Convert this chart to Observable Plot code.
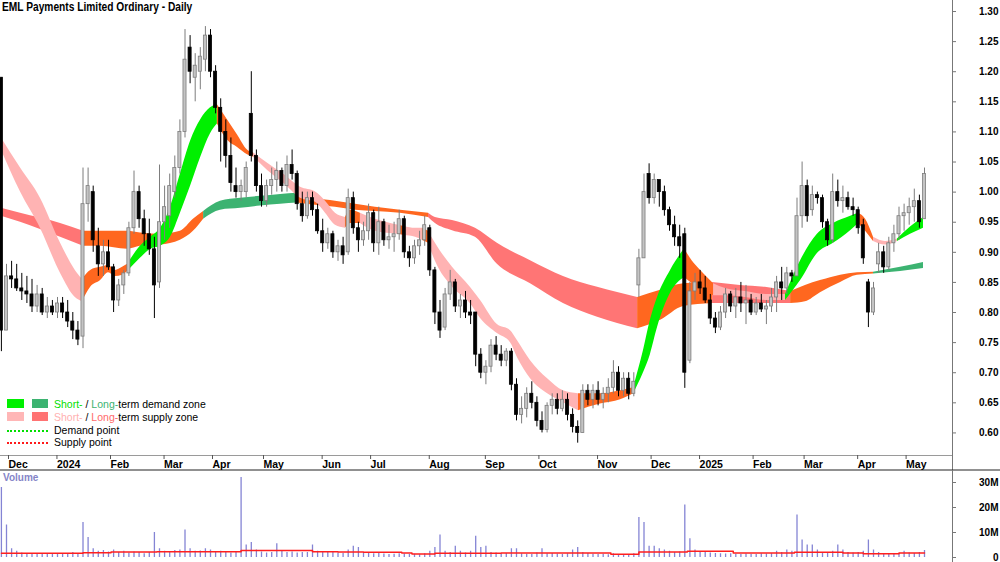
<!DOCTYPE html>
<html><head><meta charset="utf-8">
<script src="https://cdn.jsdelivr.net/npm/d3@7"></script>
<script src="https://cdn.jsdelivr.net/npm/@observablehq/plot@0.6"></script>
<style>
html,body{margin:0;padding:0;background:#fff;}
#root{position:relative;width:1000px;height:562px;overflow:hidden;font-family:"Liberation Sans",Arial,sans-serif;color:#000;}
#root svg{position:absolute;left:0;}
.abs{position:absolute;white-space:nowrap;}
.title{left:2px;top:0px;font-size:12px;font-weight:bold;transform:scaleX(0.85);transform-origin:0 0;line-height:15px;}
.sw{position:absolute;height:9px;}
.lt{position:absolute;left:54px;font-size:10.5px;line-height:12px;white-space:nowrap;}
.dot{position:absolute;left:7px;width:41px;height:0;border-top-width:2px;border-top-style:dotted;}
.vol{left:3px;top:472px;font-size:10px;font-weight:bold;color:#8585c8;line-height:12px;}
</style></head><body><div id="root">
<div class="abs title">EML Payments Limited Ordinary - Daily</div>
<div class="sw" style="left:7px;top:399px;width:17px;background:#00f000"></div>
<div class="sw" style="left:32px;top:399px;width:16px;background:#3cb371"></div>
<div class="lt" style="top:398px"><span style="color:#00e000">Short-</span> / <span style="color:#3cb371">Long-</span>term demand zone</div>
<div class="sw" style="left:7px;top:412px;width:17px;background:#ffb6b6"></div>
<div class="sw" style="left:32px;top:412px;width:16px;background:#ff7373"></div>
<div class="lt" style="top:411px"><span style="color:#ffb0b0">Short-</span> / <span style="color:#ff6a6a">Long-</span>term supply zone</div>
<div class="dot" style="top:430px;border-top-color:#00e000"></div>
<div class="lt" style="top:424px">Demand point</div>
<div class="dot" style="top:442px;border-top-color:#ff1a1a"></div>
<div class="lt" style="top:436px">Supply point</div>
<div class="abs vol">Volume</div>
</div>
<script>
// ---- Candles: one every 2 trading days, trading-day index starts at -2 (late Nov 2023) ----
const firstIdx = -2, step = 2;
const opens = [1.19,0.77,0.86,0.855,0.84,0.835,0.83,0.81,0.83,0.80,
0.81,0.80,0.815,0.80,0.785,0.77,0.76,0.98,1.0,0.91,
0.88,0.90,0.875,0.82,0.845,0.865,0.94,1.0,0.955,0.93,
0.905,0.85,0.95,0.96,1.0,1.04,1.10,1.24,1.19,1.20,
1.22,1.26,1.20,1.14,1.10,1.06,1.01,1.0,1.0,1.13,
1.06,1.01,0.985,1.01,1.02,1.035,1.01,1.045,1.03,0.98,
0.96,0.99,0.97,0.935,0.915,0.93,0.90,0.91,0.90,0.99,
0.94,0.92,0.935,0.965,0.915,0.95,0.92,0.925,0.93,0.955,
0.90,0.89,0.91,0.92,0.94,0.87,0.80,0.775,0.83,0.85,
0.81,0.82,0.80,0.80,0.73,0.70,0.71,0.745,0.73,0.72,
0.735,0.68,0.63,0.64,0.665,0.65,0.62,0.605,0.645,0.655,
0.64,0.655,0.63,0.61,0.60,0.67,0.655,0.67,0.655,0.665,
0.675,0.70,0.67,0.69,0.665,0.845,0.89,1.03,0.99,1.02,
1.0,0.97,0.945,0.925,0.93,0.72,0.835,0.85,0.84,0.82,
0.79,0.775,0.80,0.83,0.81,0.825,0.815,0.82,0.80,0.815,
0.805,0.81,0.825,0.85,0.84,0.865,0.86,0.96,1.01,0.97,
0.995,0.99,0.95,0.92,1.0,0.985,0.99,0.975,0.97,0.945,
0.85,0.80,0.88,0.90,0.875,0.915,0.93,0.96,0.965,0.975,
0.985,0.955];
const highs = [1.19,0.88,0.885,0.88,0.865,0.86,0.855,0.845,0.84,0.825,
0.82,0.825,0.825,0.82,0.80,0.785,1.04,1.04,1.01,0.94,
0.92,0.92,0.88,0.855,0.87,0.95,1.035,1.01,0.97,0.955,
0.925,1.045,1.01,1.03,1.06,1.12,1.27,1.26,1.23,1.24,
1.275,1.27,1.21,1.155,1.12,1.09,1.04,1.02,1.05,1.20,
1.07,1.03,1.02,1.04,1.05,1.04,1.06,1.07,1.035,1.0,
1.0,1.0,0.98,0.955,0.94,0.935,0.92,0.925,1.005,1.0,
0.95,0.95,0.98,0.97,0.975,0.955,0.945,0.95,0.97,0.96,
0.91,0.92,0.935,0.96,0.945,0.875,0.82,0.84,0.87,0.855,
0.83,0.835,0.82,0.80,0.74,0.72,0.755,0.76,0.745,0.74,
0.74,0.69,0.66,0.675,0.685,0.66,0.635,0.65,0.665,0.665,
0.67,0.665,0.64,0.62,0.68,0.68,0.68,0.685,0.675,0.69,
0.72,0.71,0.70,0.70,0.70,0.905,1.03,1.047,1.03,1.015,
1.01,0.975,0.96,0.945,0.94,0.85,0.865,0.87,0.86,0.83,
0.80,0.81,0.84,0.835,0.84,0.85,0.845,0.83,0.825,0.83,
0.82,0.84,0.86,0.875,0.875,0.87,0.99,1.05,1.02,1.01,
1.0,0.995,0.955,1.03,1.02,1.01,1.0,0.99,0.975,0.955,
0.855,0.85,0.915,0.91,0.925,0.945,0.975,0.98,0.99,1.005,
0.995,1.04];
const lows = [0.735,0.77,0.84,0.835,0.82,0.815,0.80,0.80,0.795,0.79,
0.795,0.79,0.79,0.775,0.755,0.745,0.74,0.95,0.90,0.86,
0.86,0.87,0.80,0.81,0.83,0.86,0.93,0.94,0.91,0.895,
0.79,0.84,0.92,0.94,0.99,1.03,1.09,1.18,1.15,1.17,
1.20,1.19,1.13,1.05,1.04,1.0,0.99,0.985,0.99,1.05,
1.0,0.975,0.975,0.995,1.0,1.0,1.0,1.02,0.97,0.95,
0.955,0.96,0.93,0.90,0.905,0.89,0.885,0.88,0.895,0.93,
0.90,0.91,0.92,0.90,0.895,0.91,0.905,0.90,0.92,0.89,
0.875,0.88,0.895,0.91,0.86,0.78,0.757,0.77,0.82,0.80,
0.79,0.79,0.78,0.71,0.69,0.68,0.70,0.72,0.71,0.71,
0.67,0.62,0.615,0.625,0.64,0.61,0.60,0.60,0.63,0.63,
0.635,0.62,0.60,0.583,0.60,0.645,0.64,0.645,0.64,0.65,
0.665,0.66,0.66,0.655,0.66,0.825,0.89,0.98,0.98,0.975,
0.96,0.935,0.91,0.89,0.674,0.715,0.82,0.83,0.815,0.78,
0.765,0.77,0.79,0.80,0.79,0.80,0.78,0.795,0.795,0.80,
0.78,0.80,0.80,0.82,0.83,0.85,0.86,0.94,0.95,0.96,
0.98,0.94,0.91,0.915,0.975,0.965,0.97,0.96,0.93,0.88,
0.775,0.795,0.865,0.865,0.87,0.90,0.92,0.935,0.945,0.95,
0.94,0.955];
const closes = [0.77,0.86,0.855,0.84,0.835,0.83,0.81,0.83,0.80,0.81,
0.80,0.815,0.80,0.785,0.77,0.755,0.98,1.01,0.92,0.88,
0.90,0.875,0.82,0.845,0.865,0.94,1.0,0.955,0.93,0.905,
0.845,0.95,0.975,1.01,1.04,1.10,1.22,1.20,1.21,1.225,
1.26,1.20,1.14,1.10,1.06,1.015,1.0,1.01,1.04,1.06,
1.01,0.985,1.01,1.02,1.035,1.01,1.045,1.03,0.98,0.96,
0.99,0.97,0.935,0.915,0.93,0.90,0.91,0.895,0.99,0.94,
0.92,0.935,0.965,0.915,0.95,0.92,0.925,0.93,0.955,0.90,
0.89,0.91,0.92,0.945,0.87,0.80,0.77,0.83,0.85,0.81,
0.82,0.80,0.795,0.73,0.70,0.71,0.745,0.73,0.72,0.735,
0.68,0.63,0.64,0.665,0.65,0.62,0.605,0.645,0.655,0.64,
0.655,0.63,0.61,0.60,0.67,0.655,0.67,0.655,0.665,0.675,
0.70,0.67,0.69,0.665,0.685,0.89,1.0,0.99,1.02,1.0,
0.97,0.945,0.925,0.91,0.70,0.835,0.85,0.84,0.82,0.79,
0.775,0.80,0.83,0.81,0.825,0.815,0.82,0.80,0.815,0.805,
0.81,0.825,0.85,0.84,0.865,0.86,0.96,1.01,0.96,0.995,
0.99,0.95,0.92,1.0,0.985,0.99,0.975,0.97,0.94,0.89,
0.80,0.84,0.90,0.875,0.915,0.93,0.96,0.965,0.975,0.985,
0.95,1.03];
// volume in millions
const volumes = [28,13,3.5,2.5,1.8,1.5,1.6,1.3,1.5,1.2,
1.4,1.3,1.5,1.2,2.0,1.6,14,8,3.5,2.5,
2.8,2.2,3.0,2.0,2.5,1.8,2.2,2.0,1.5,2.0,
10,3.5,2.5,2.2,2.8,3.0,11,3.5,2.5,2.6,
3.5,3.0,2.2,2.5,2.0,1.8,2.0,32,5,6,
3,2.2,1.8,2.0,5.5,2.5,2.0,2.2,1.8,2.0,
2.0,5,2.5,2.0,2.2,2.0,1.8,1.6,3.0,4.5,
4,2.0,1.8,1.5,1.6,1.4,1.2,1.3,1.5,1.4,
1.2,1.3,1.1,1.5,2.5,4,9,2.5,2.0,4.5,
2.5,1.8,2.5,8.5,4,4.5,2.0,1.8,1.5,1.6,
3.5,3.5,1.5,1.3,1.2,1.8,3.5,1.5,1.6,1.4,
1.2,1.5,3,4,2.0,1.6,1.3,1.2,1.3,1.1,
1.5,1.2,1.0,1.2,1.5,16,14,4.5,4.5,3.5,
3,2.5,2.0,2.2,21,7.5,3,2.2,2.0,1.8,
1.6,1.5,1.4,1.5,1.3,1.2,1.4,1.3,1.2,1.5,
1.4,1.6,2.5,2.0,3,2.5,17,7,5,5,
3,2.0,1.8,2.5,5,3,2.0,1.8,2.0,2.5,
7,3,2.0,1.6,1.5,1.4,1.6,2.5,1.8,1.6,
2.0,2.8];
// average volume line (trading-day index, millions)
const volAvgIdx = [-2,30,41,59,92,120,130,140,155,159,168,194,237,248,267,285,309,328,336,350,360];
const volAvgVal = [1.7,1.9,2.2,2.3,2.8,2.3,2.2,2.1,1.8,1.4,1.7,1.8,1.3,2.2,2.5,1.8,2.1,1.8,1.5,1.8,1.8];

// ---- Short-term zone (state: S supply, N neutral, D demand for the segment starting there) ----
const stIdx = [-2,5.5,13.3,21.2,27,29.8,33,36.9,40,42.7,45.5,47.5,52.5,56.5,60.4,64.3,68.2,72.2,76.1,80,82.7,86.7,90.6,94.5,96.9,102.4,108.6,115.3,121.2,125.1,129,132.9,134.9,138.8,144.7,153.7,156,160.4,163.1,165.5,168.2,174.9,181.9,185.9,192.5,197.6,200.4,205.5,212.2,218.4,224.3,232.9,240.8,245.9,249.8,252.5,255.3,260.4,265.9,269,272.2,277.3,282,289.8,297.6,305.5,311.4,318,324.3,331,334.1,336.9,340,344.7,349.4,354.5,359.6];
const stTop = [1.09,1.04,0.99,0.915,0.87,0.855,0.87,0.875,0.878,0.87,0.875,0.88,0.91,0.925,0.94,0.975,1.03,1.085,1.12,1.14,1.145,1.12,1.095,1.07,1.065,1.048,1.03,1.008,1.0,0.985,0.965,0.958,0.97,0.965,0.955,0.945,0.943,0.94,0.94,0.935,0.915,0.875,0.842,0.82,0.78,0.77,0.753,0.72,0.69,0.67,0.665,0.665,0.67,0.675,0.737,0.787,0.825,0.87,0.906,0.885,0.87,0.848,0.84,0.835,0.83,0.83,0.886,0.93,0.948,0.96,0.965,0.955,0.925,0.918,0.922,0.942,0.958];
const stBot = [1.07,1.0,0.94,0.865,0.825,0.818,0.842,0.853,0.866,0.86,0.862,0.868,0.89,0.905,0.91,0.925,0.965,1.01,1.057,1.097,1.113,1.086,1.074,1.062,1.058,1.036,1.015,0.99,0.983,0.965,0.945,0.94,0.948,0.948,0.935,0.93,0.928,0.925,0.92,0.915,0.885,0.842,0.815,0.79,0.765,0.75,0.725,0.69,0.665,0.65,0.637,0.648,0.655,0.665,0.70,0.73,0.775,0.832,0.858,0.848,0.84,0.828,0.828,0.825,0.82,0.82,0.853,0.898,0.915,0.936,0.948,0.935,0.918,0.912,0.918,0.93,0.94];
const stState = ["S","S","S","S","S","N","N","N","N","N","N","D","D","D","D","D","D","D","D","D","N","N","N","N","S","S","S","S","S","S","S","N","N","S","S","N","S","S","N","S","S","S","S","S","S","S","S","S","S","S","N","N","N","D","D","D","D","D","N","N","N","S","S","S","S","D","D","D","D","D","N","N","S","S","D","D","D"];

// ---- Long-term zone ----
const ltIdx = [-2,5.5,13.3,21.2,30.2,36.9,47.5,52.5,60.4,68.2,73.3,77.3,83.9,91.8,99.6,107.5,114.1,121.2,129,136.9,144.7,154.5,165.5,168.2,174.9,183.9,192.5,205.5,218.4,231.8,247.5,256.5,265.5,276.9,287.8,297.6,307.5,313.3,319.2,327.1,333.7,340,350.6,359.6];
const ltTop = [0.973,0.965,0.957,0.948,0.935,0.935,0.935,0.932,0.93,0.935,0.955,0.968,0.985,0.99,0.993,0.996,0.998,0.99,0.985,0.98,0.975,0.97,0.965,0.958,0.953,0.94,0.915,0.886,0.86,0.842,0.825,0.837,0.848,0.85,0.845,0.842,0.835,0.845,0.853,0.862,0.866,0.867,0.875,0.883];
const ltBot = [0.96,0.95,0.938,0.925,0.91,0.91,0.905,0.91,0.912,0.92,0.935,0.955,0.97,0.973,0.977,0.98,0.982,0.978,0.975,0.97,0.968,0.965,0.958,0.948,0.936,0.925,0.88,0.848,0.815,0.792,0.773,0.787,0.81,0.815,0.815,0.815,0.815,0.818,0.833,0.85,0.862,0.864,0.868,0.873];
const ltState = ["S","S","S","S","N","N","N","N","N","N","N","D","D","D","D","D","N","N","N","N","N","N","S","S","S","S","S","S","S","S","N","N","N","S","S","S","N","N","N","N","N","D","D","D"];

const stColors = {S:"#ffb3b3", N:"#ff671f", D:"#00f000"};
const ltColors = {S:"#ff7575", N:"#ff671f", D:"#3cb371"};

// ---- axes ----
const priceTicks = [0.60,0.65,0.70,0.75,0.80,0.85,0.90,0.95,1.00,1.05,1.10,1.15,1.20,1.25,1.30];
const monthTickIdx = [0,19,40,61,80,100,123,142,165,187,208,231,252,271,292,312,333,352];
const monthLabels = ["Dec","2024","Feb","Mar","Apr","May","Jun","Jul","Aug","Sep","Oct","Nov","Dec","2025","Feb","Mar","Apr","May"];
const volTicks = [0,10,20,30];
const volTickLabels = ["0","10M","20M","30M"];

// ---- build ----
const candles = opens.map((o,k)=>({i:firstIdx+step*k, o, h:highs[k], l:lows[k], c:closes[k], v:volumes[k]}));
const volAvg = volAvgIdx.map((x,k)=>({x, y:volAvgVal[k]}));
function zoneRows(idx, top, bot, state, colors){
  const rows=[]; let g=-1;
  for(let j=0;j<idx.length-1;j++){
    if(j===0 || state[j]!==state[j-1]){ g++; rows.push({x:idx[j], y1:bot[j], y2:top[j], g, fill:colors[state[j]]}); }
    rows.push({x:idx[j+1], y1:bot[j+1], y2:top[j+1], g, fill:colors[state[j]]});
  }
  return rows;
}
const stRows = zoneRows(stIdx, stTop, stBot, stState, stColors);
const ltRows = zoneRows(ltIdx, ltTop, ltBot, ltState, ltColors);
const monthMap = new Map(monthTickIdx.map((d,k)=>[d, monthLabels[k]]));
const volMap = new Map(volTicks.map((d,k)=>[d, volTickLabels[k]]));

const xDom = [-2.353, 370.98];
const priceDom = [0.5625, 1.3183];
const style = {fontFamily:"'Liberation Sans', Arial, sans-serif", fontSize:"10px", background:"transparent", overflow:"visible", color:"#000"};

const up = d => d.c >= d.o;
const price = Plot.plot({
  width:1000, height:470, marginLeft:0, marginRight:48, marginTop:0, marginBottom:15,
  x:{domain:xDom}, y:{domain:priceDom}, color:{type:"identity"}, style,
  marks:[
    Plot.areaY(ltRows, {x:"x", y1:"y1", y2:"y2", z:"g", fill:"fill", curve:"monotone-x"}),
    Plot.areaY(stRows, {x:"x", y1:"y1", y2:"y2", z:"g", fill:"fill", curve:"monotone-x"}),
    Plot.ruleX(candles, {x:"i", y1:"l", y2:"h", stroke:d=>up(d)?"#7d7d7d":"#000", strokeWidth:1}),
    Plot.rect(candles, {x1:d=>d.i-0.6, x2:d=>d.i+0.6, y1:"o", y2:"c", fill:d=>up(d)?"#c4c4c4":"#000", stroke:d=>up(d)?"#7d7d7d":"#000", strokeWidth:0.8}),
    Plot.ruleY([priceDom[0]], {stroke:"#9a9a9a"}),
    Plot.ruleX([xDom[1]], {y1:0.5375, y2:priceDom[1], stroke:"#777"}),
    Plot.ruleY([0.5384], {x1:xDom[0], x2:390, stroke:"#222"}),
    Plot.axisY(priceTicks, {anchor:"right", tickSize:3, tickPadding:43, textAnchor:"end", tickFormat:d=>d.toFixed(2), fontWeight:"bold", fontSize:10, stroke:"#777"}),
    Plot.axisX(monthTickIdx, {anchor:"bottom", tickSize:4, tickPadding:1, textAnchor:"start", dx:2, tickFormat:d=>monthMap.get(d), fontWeight:"bold", fontSize:10.5, stroke:"#555"})
  ]
});
price.style.top = "0px";

const volume = Plot.plot({
  width:1000, height:92, marginLeft:0, marginRight:48, marginTop:0, marginBottom:0,
  x:{domain:xDom, axis:null}, y:{domain:[-2.0,34.8]}, color:{type:"identity"}, style,
  marks:[
    Plot.ruleX(candles, {x:"i", y1:0, y2:"v", stroke:"#8484d4", strokeWidth:1.3}),
    Plot.line(volAvg, {x:"x", y:"y", curve:"step-after", stroke:"#ff1f1f", strokeWidth:1.5}),
    Plot.ruleX([xDom[1]], {stroke:"#777"}),
    Plot.axisY(volTicks, {anchor:"right", tickSize:3, tickPadding:43, textAnchor:"end", tickFormat:d=>volMap.get(d), fontWeight:"bold", fontSize:10, stroke:"#777"})
  ]
});
volume.style.top = "470px";

const root = document.getElementById("root");
root.insertBefore(volume, root.firstChild);
root.insertBefore(price, root.firstChild);
</script></body></html>
